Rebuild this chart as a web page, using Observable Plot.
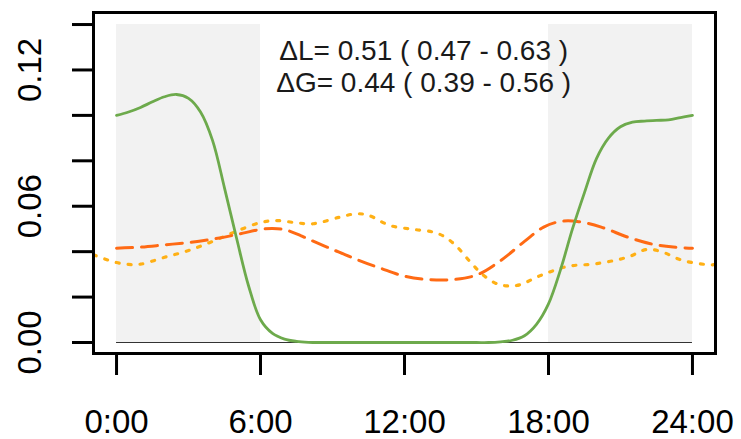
<!DOCTYPE html>
<html><head><meta charset="utf-8">
<script src="https://cdn.jsdelivr.net/npm/d3@7"></script>
<script src="https://cdn.jsdelivr.net/npm/@observablehq/plot@0.6"></script>
<style>body{margin:0;background:#fff}</style>
</head><body><div id="chart"></div>
<script>
// Solid green series
const solidHours  = [0,0.5,1,1.5,2,2.5,3,3.5,4,4.5,5,5.5,6,6.5,7,7.5,8,8.5,9,10,12,14,15,15.5,16,16.5,17,17.5,18,18.5,19,19.5,20,20.5,21,21.5,22,22.5,23,23.5,24];
const solidValues = [0.100,0.1015,0.1035,0.1060,0.1082,0.1092,0.1075,0.1015,0.089,0.068,0.046,0.025,0.010,0.004,0.0015,0.0005,0.0001,0,0,0,0,0,0,0,0.0003,0.001,0.003,0.008,0.017,0.032,0.050,0.066,0.081,0.090,0.095,0.097,0.0975,0.0978,0.098,0.099,0.100];
// Dashed orange series
const dashedHours  = [0,1,2,3,4,5,6,6.5,7,7.67,8,9,10,11,12,13,14,15,16,17,17.8,18.5,19.2,20.2,21.3,22.25,23.2,24];
const dashedValues = [0.0415,0.042,0.043,0.044,0.0455,0.0475,0.0498,0.0502,0.0497,0.0471,0.0455,0.041,0.0366,0.0327,0.0292,0.0277,0.0277,0.0297,0.036,0.0445,0.0508,0.0533,0.0533,0.0508,0.0464,0.0435,0.042,0.0415];
// Dotted yellow series
const dottedHours  = [-0.96,-0.5,0,0.5,1,2,3,4,5,6,6.7,7.5,8.2,9.3,10,10.5,11.4,12.4,13.2,13.7,14.2,14.75,15.3,15.86,16.3,16.8,17.67,18.8,20,21.3,22.1,22.7,23.6,24.75,24.96];
const dottedValues = [0.0386,0.0368,0.0352,0.0344,0.0345,0.0375,0.0405,0.0445,0.049,0.0528,0.0537,0.0527,0.0523,0.0552,0.0567,0.0560,0.0515,0.0498,0.0486,0.0464,0.042,0.0354,0.0295,0.0258,0.0249,0.0254,0.0295,0.0335,0.0347,0.0376,0.041,0.040,0.0361,0.0342,0.0344];

const nightStart = [0, 18];
const nightEnd   = [6, 24];
const xTicks = [0, 6, 12, 18, 24];
const xTickLabels = ["0:00", "6:00", "12:00", "18:00", "24:00"];
const yTicks = [0, 0.02, 0.04, 0.06, 0.08, 0.10, 0.12, 0.14];
const yLabelTicks = [0, 0.06, 0.12];
const yTickLabels = ["0.00", "0.06", "0.12"];
const annotationLines = ["ΔL= 0.51 ( 0.47 - 0.63 )", "ΔG= 0.44 ( 0.39 - 0.56 )"];

const solid = solidHours.map((h, i) => ({h, v: solidValues[i]}));
const dashed = dashedHours.map((h, i) => ({h, v: dashedValues[i]}));
const dotted = dottedHours.map((h, i) => ({h, v: dottedValues[i]}));
const night = nightStart.map((s, i) => ({s, e: nightEnd[i]}));
const yLabels = yLabelTicks.map((v, i) => ({v, t: yTickLabels[i]}));

const chart = Plot.plot({
  width: 741,
  height: 439,
  marginLeft: 93,
  marginRight: 26,
  marginTop: 12,
  marginBottom: 86,
  style: {fontFamily: "Liberation Sans, Arial, Helvetica, sans-serif", background: "#fff", color: "#000"},
  x: {domain: [-0.96, 24.96], axis: null},
  y: {domain: [-0.00484, 0.1453], axis: null},
  marks: [
    Plot.rect(night, {x1: "s", x2: "e", y1: 0, y2: 0.14, fill: "#F2F2F2"}),
    Plot.ruleY([0], {x1: 0, x2: 24, stroke: "#333", strokeWidth: 1.2}),
    Plot.line(dotted, {x: "h", y: "v", stroke: "#FFB015", strokeWidth: 3.2, strokeDasharray: "3,9", strokeLinecap: "round", curve: "catmull-rom", clip: true}),
    Plot.line(dashed, {x: "h", y: "v", stroke: "#FF6A14", strokeWidth: 3, strokeDasharray: "16,9", curve: "catmull-rom", clip: true}),
    Plot.line(solid, {x: "h", y: "v", stroke: "#6DAA4C", strokeWidth: 2.8, curve: "catmull-rom", clip: true}),
    Plot.text([annotationLines.join("\n")], {x: 12.8, y: 0.1101, text: d => d, fontSize: 28, lineAnchor: "bottom", lineHeight: 32/28, textAnchor: "middle", fill: "#1a1a1a"}),
    Plot.frame({stroke: "#000", strokeWidth: 3}),
    Plot.axisX(xTicks, {label: null, tickSize: 22, tickPadding: 34, strokeWidth: 3, fontSize: 33, tickFormat: (d) => xTickLabels[xTicks.indexOf(d)], fill: "#000"}),
    Plot.axisY(yTicks, {label: null, tickSize: 21, strokeWidth: 3, tickFormat: () => ""}),
    Plot.text(yLabels, {y: "v", text: "t", frameAnchor: "left", dx: -63, rotate: -90, textAnchor: "middle", lineAnchor: "middle", fontSize: 33, fill: "#000"})
  ]
});
document.getElementById("chart").appendChild(chart);
</script>
</body></html>
